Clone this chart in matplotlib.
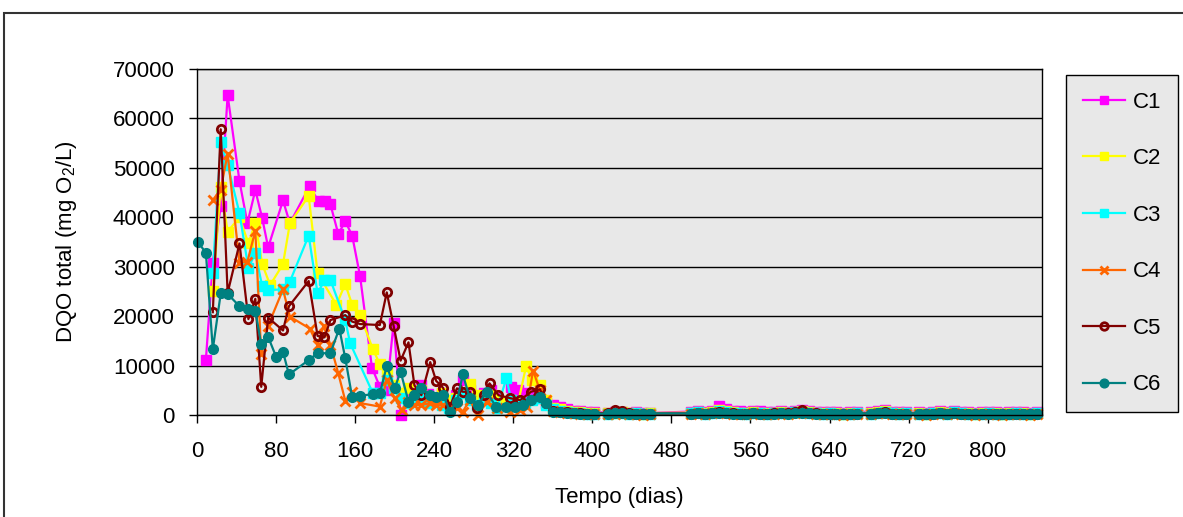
import numpy as np
import matplotlib
matplotlib.use("Agg")
import matplotlib.pyplot as plt
from matplotlib.patches import Rectangle

plt.rcParams['font.family'] = ['Liberation Sans', 'DejaVu Sans']
plt.rcParams['mathtext.fontset'] = 'custom'
plt.rcParams['mathtext.rm'] = 'Liberation Sans'
plt.rcParams['mathtext.it'] = 'Liberation Sans'

# first year (days, DQO in mg O2/L)
c1_days = [9, 16, 24, 31, 43, 51, 59, 66, 72, 87, 94, 114, 123, 130, 135, 143, 150, 157, 165, 177,
           185, 192, 199, 206, 214, 220, 227, 234, 241, 248, 255, 262, 269, 276, 283, 290, 297, 304,
           311, 318, 325, 332, 339, 346, 353]
c1_vals = [11200, 30800, 42300, 64700, 47300, 38800, 45500, 39800, 33900, 43400, 38800, 46300, 43200,
           43200, 42600, 36600, 39200, 36300, 28100, 9600, 5700, 5000, 18700, 0, 4000, 4500, 6000, 4200,
           3500, 4500, 2500, 4000, 7000, 5000, 3000, 4500, 5000, 3500, 2000, 5700, 5000, 4500, 4000,
           3400, 2500]

c2_days = [16, 24, 31, 43, 52, 59, 66, 74, 87, 94, 113, 122, 141, 150, 157, 165, 178, 185, 192, 199,
           206, 214, 220, 227, 234, 241, 248, 255, 262, 269, 276, 283, 290, 297, 304, 311, 318, 325,
           333, 339, 347, 353]
c2_vals = [25100, 46200, 37100, 40000, 34700, 38900, 30500, 26300, 30500, 38800, 44300, 28700, 22300,
           26500, 22300, 20200, 13300, 10300, 8800, 6000, 4500, 5500, 4000, 5000, 3500, 3000, 4500,
           3000, 3500, 4500, 6300, 4000, 3500, 4000, 3000, 2500, 3000, 2500, 9900, 7000, 6000, 3000]

c3_days = [16, 24, 31, 43, 52, 59, 66, 72, 87, 94, 113, 122, 129, 135, 150, 155, 178, 185, 192, 199,
           206, 214, 220, 227, 234, 241, 248, 255, 262, 269, 276, 283, 290, 297, 304, 313, 318, 325,
           332, 339, 346, 353]
c3_vals = [28800, 55200, 50600, 40800, 29700, 32800, 26000, 25300, 25400, 27000, 36300, 24600, 27300,
           27300, 19200, 14500, 4400, 4400, 7000, 5500, 3500, 2500, 3000, 3500, 2500, 3000, 2000,
           1500, 3000, 4500, 3000, 2000, 3500, 2500, 1500, 7400, 3000, 2000, 2500, 3000, 3500, 2000]

c4_days = [16, 24, 31, 43, 51, 59, 65, 72, 87, 94, 114, 122, 128, 135, 143, 150, 157, 165, 185, 192,
           200, 207, 214, 220, 227, 236, 242, 249, 256, 263, 269, 276, 284, 293, 304, 317, 327, 334,
           340, 347, 353]
c4_vals = [43500, 45600, 52900, 30800, 31000, 37300, 12300, 18100, 25400, 19900, 17500, 14200, 18000,
           14200, 8400, 2900, 4700, 2400, 1700, 7100, 3400, 1000, 2700, 2000, 2000, 2400, 2000, 2000,
           1350, 1500, 700, 3000, 0, 2700, 1500, 700, 1000, 1700, 9000, 5000, 3000]

c5_days = [16, 24, 31, 43, 52, 59, 65, 72, 87, 93, 113, 122, 129, 135, 150, 157, 165, 185, 192, 199,
           206, 214, 220, 227, 236, 242, 249, 256, 263, 269, 276, 283, 290, 296, 305, 317, 327, 338,
           347, 353]
c5_vals = [20800, 57800, 24700, 34700, 19400, 23500, 5700, 19700, 17100, 22000, 27100, 16000, 15700,
           19200, 20200, 18900, 18400, 18200, 24800, 18000, 11000, 14700, 6000, 4000, 10700, 6900,
           5500, 1700, 5400, 4700, 4700, 1350, 4000, 6400, 4000, 3400, 3000, 4700, 5200, 2500]

c6_days = [1, 9, 16, 24, 31, 43, 52, 59, 65, 72, 80, 87, 93, 113, 122, 135, 144, 150, 157, 165, 178,
           185, 192, 200, 206, 214, 220, 227, 236, 242, 249, 256, 263, 269, 276, 284, 293, 303, 313,
           322, 330, 338, 347, 353]
c6_vals = [35000, 32800, 13300, 24600, 24500, 22000, 21400, 21100, 14300, 15800, 11800, 12800, 8200,
           11100, 12500, 12500, 17500, 11500, 3600, 3850, 4250, 4400, 9900, 5400, 8800, 2700, 4000,
           5400, 4050, 3600, 4050, 700, 2700, 8200, 3400, 2000, 4700, 1550, 1700, 1700, 2000, 3000,
           3700, 2500]

# later sampling, shared by all columns
late_days = [360, 367, 374, 381, 388, 395, 402,
             416, 423, 430, 437, 444, 451, 458,
             500, 507, 514, 521, 528, 535, 542, 549, 556, 563, 570, 577, 584, 591, 598, 605, 612,
             619, 626, 633, 640, 647, 654, 661, 668,
             682, 689, 696, 703, 710, 717,
             731, 738, 745, 752, 759, 766, 773, 780, 787, 794, 801, 808, 815, 822, 829, 836, 843, 850]
c1_late = [2000, 1700, 1200, 900, 800, 700, 600,
           500, 600, 700, 500, 600, 500, 400,
           700, 900, 600, 800, 1800, 1200, 900, 800, 700, 900, 800, 700, 600, 800, 700, 900, 1100,
           800, 700, 600, 700, 600, 500, 600, 700,
           600, 800, 1100, 700, 600, 700,
           600, 500, 700, 800, 600, 900, 700, 600, 500, 600, 700, 600, 500, 600, 700, 600, 500, 700]
c2_late = [1500, 1200, 900, 700, 600, 500, 400,
           400, 500, 600, 400, 500, 300, 400,
           500, 700, 400, 600, 1000, 800, 600, 500, 400, 600, 500, 400, 500, 600, 500, 700, 800,
           600, 500, 400, 500, 400, 300, 400, 500,
           400, 600, 800, 500, 400, 500,
           400, 300, 500, 600, 400, 700, 500, 400, 300, 400, 500, 400, 300, 400, 500, 400, 300, 500]
c3_late = [1200, 900, 700, 500, 400, 300, 300,
           300, 400, 500, 300, 400, 200, 300,
           400, 600, 300, 500, 800, 600, 500, 400, 300, 500, 400, 300, 400, 500, 400, 600, 700,
           500, 400, 300, 400, 300, 200, 300, 400,
           300, 500, 700, 400, 300, 400,
           300, 200, 400, 500, 300, 600, 400, 300, 200, 300, 400, 300, 200, 300, 400, 300, 200, 400]
c4_late = [800, 700, 500, 400, 300, 200, 200,
           200, 300, 400, 200, 300, 100, 200,
           300, 500, 200, 400, 600, 400, 300, 300, 200, 400, 300, 200, 300, 400, 300, 500, 600,
           400, 300, 200, 300, 200, 100, 200, 300,
           200, 400, 500, 300, 200, 300,
           200, 100, 300, 400, 200, 500, 300, 200, 100, 200, 300, 200, 100, 200, 300, 200, 100, 300]
c5_late = [900, 700, 600, 500, 400, 300, 300,
           400, 1000, 800, 400, 300, 300, 300,
           300, 500, 300, 400, 700, 500, 400, 300, 300, 400, 300, 300, 400, 500, 400, 700, 1000,
           500, 400, 300, 300, 300, 200, 300, 300,
           300, 400, 600, 300, 300, 300,
           300, 200, 300, 400, 300, 500, 300, 300, 200, 300, 300, 300, 200, 300, 300, 300, 200, 300]
c6_late = [700, 600, 500, 400, 300, 300, 200,
           300, 400, 400, 300, 300, 200, 300,
           300, 400, 300, 400, 500, 400, 300, 300, 300, 400, 300, 300, 300, 400, 300, 400, 500,
           400, 300, 300, 300, 300, 200, 300, 300,
           300, 400, 500, 300, 300, 300,
           300, 200, 300, 400, 300, 400, 300, 300, 200, 300, 300, 300, 200, 300, 300, 300, 200, 300]

labels = ['C1', 'C2', 'C3', 'C4', 'C5', 'C6']
x_ticks = list(range(0, 801, 80))
y_ticks = list(range(0, 70001, 10000))

series = [
    (c1_days, c1_vals, c1_late, dict(color='#FF00FF', marker='s', ms=7, mfc='#FF00FF', mec='#FF00FF')),
    (c2_days, c2_vals, c2_late, dict(color='#FFFF00', marker='s', ms=7, mfc='#FFFF00', mec='#FFFF00')),
    (c3_days, c3_vals, c3_late, dict(color='#00FFFF', marker='s', ms=7, mfc='#00FFFF', mec='#00FFFF')),
    (c4_days, c4_vals, c4_late, dict(color='#FF6600', marker='x', ms=7, mew=2)),
    (c5_days, c5_vals, c5_late, dict(color='#800000', marker='o', ms=6, mfc='none', mec='#800000', mew=2)),
    (c6_days, c6_vals, c6_late, dict(color='#008080', marker='o', ms=7, mfc='#008080', mec='#008080')),
]

fig = plt.figure(figsize=(11.83, 5.17), dpi=100)
ax = fig.add_axes([197 / 1183, 1 - 415 / 517, 845 / 1183, 346 / 517])
ax.set_facecolor('#E8E8E8')

for (d, v, late, style), lab in zip(series, labels):
    x = np.concatenate([d, late_days])
    y = np.concatenate([v, late])
    ax.plot(x, y, lw=1.6, label=lab, clip_on=False, **style)

ax.set_xlim(0, 855)
ax.set_ylim(0, 70000)
ax.set_xticks(x_ticks)
ax.set_yticks(y_ticks)
ax.tick_params(axis='both', labelsize=16, length=6, width=1, direction='out')
ax.tick_params(axis='x', pad=13)
ax.tick_params(axis='y', pad=10)
ax.yaxis.grid(True, color='black', lw=1)
ax.set_axisbelow(True)
for s in ax.spines.values():
    s.set_color('black')
    s.set_linewidth(1)

ax.set_ylabel('DQO total (mg O$_2$/L)', fontsize=16, labelpad=24)
ax.set_xlabel('Tempo (dias)', fontsize=16, labelpad=18)

leg = fig.legend(loc='upper left', bbox_to_anchor=(1066 / 1183, 1 - 75 / 517),
                 bbox_transform=fig.transFigure, fontsize=16, frameon=True, fancybox=False,
                 edgecolor='black', facecolor='#E8E8E8', labelspacing=1.6, borderpad=0.75,
                 handlelength=1.9, handletextpad=0.35, borderaxespad=0, markerscale=0.9)
leg.get_frame().set_linewidth(1)
leg.get_frame().set_alpha(None)

# chart border
fig.patches.append(Rectangle((4 / 1183, -0.2), 1.2, 1.2 - 13 / 517,
                             transform=fig.transFigure, fill=False, ec='#333333', lw=1.5))

fig.savefig('out.png', dpi=100)
